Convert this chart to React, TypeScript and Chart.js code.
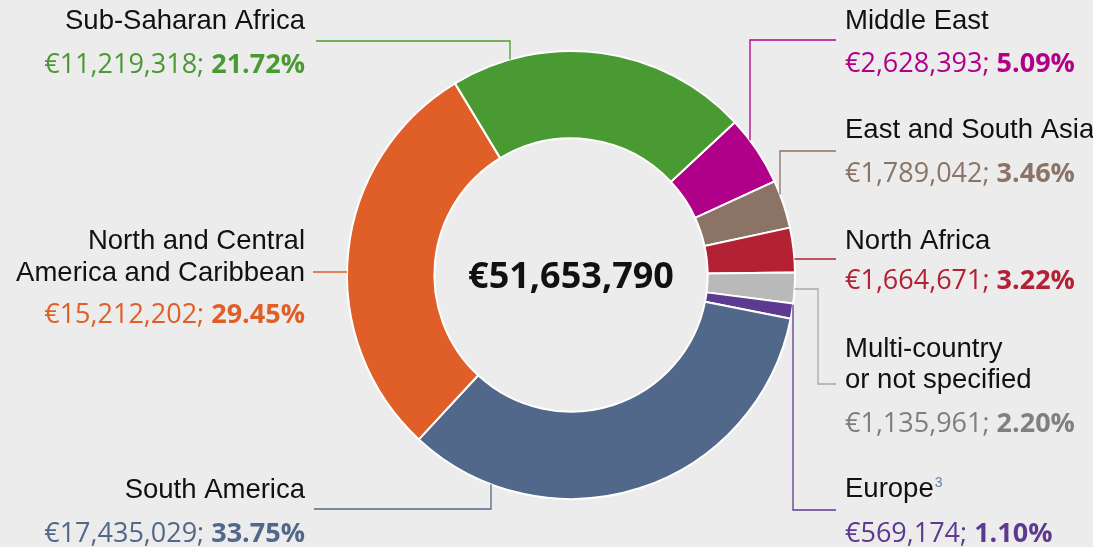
import React, { useEffect, useRef } from "react";
import { Chart, registerables } from "chart.js";

Chart.register(...registerables);

// ---- data ----
const regions = [
  "Middle East",
  "East and South Asia",
  "North Africa",
  "Multi-country or not specified",
  "Europe",
  "South America",
  "North and Central America and Caribbean",
  "Sub-Saharan Africa",
];
const amounts = [2628393, 1789042, 1664671, 1135961, 569174, 17435029, 15212202, 11219318];
const percents = ["5.09", "3.46", "3.22", "2.20", "1.10", "33.75", "29.45", "21.72"];
const labelLines = [
  ["Middle East"],
  ["East and South Asia"],
  ["North Africa"],
  ["Multi-country", "or not specified"],
  ["Europe"],
  ["South America"],
  ["North and Central", "America and Caribbean"],
  ["Sub-Saharan Africa"],
];
const superscripts = ["", "", "", "", "3", "", "", ""];

// ---- styles ----
const sliceColors = ["#b0008a", "#8b7366", "#b22234", "#b9b9b9", "#5c3a8f", "#52688a", "#e05f28", "#4a9a33"];
const textColors = ["#b0008a", "#8b7366", "#b22234", "#7f7f7f", "#5c3a8f", "#52688a", "#e05f28", "#4a9a33"];
const BG = "#ececec";
const NAME_FONT = "27.5px 'Liberation Sans', Arial, sans-serif";
const VALUE_FONT = "27px 'Open Sans', sans-serif";
const VALUE_BOLD_FONT = "bold 27px 'Open Sans', sans-serif";
const CENTER_FONT = "bold 36px 'Open Sans', sans-serif";

type Layout = {
  x: number;
  align: "left" | "right";
  nameY: number[];
  valueY: number;
  leader: number[][];
  toRing: "up" | "down" | "left" | "right";
};

const labelLayout: Layout[] = [
  { x: 845, align: "left", nameY: [29], valueY: 72, leader: [[836, 40], [750, 40]], toRing: "down" },
  { x: 845, align: "left", nameY: [138], valueY: 182, leader: [[836, 151], [780, 151]], toRing: "down" },
  { x: 845, align: "left", nameY: [249], valueY: 289, leader: [[836, 259]], toRing: "left" },
  { x: 845, align: "left", nameY: [357, 388], valueY: 432, leader: [[836, 384], [818, 384], [818, 289]], toRing: "left" },
  { x: 845, align: "left", nameY: [497], valueY: 542, leader: [[836, 510], [793, 510]], toRing: "up" },
  { x: 305, align: "right", nameY: [498], valueY: 542, leader: [[314, 509], [491, 509]], toRing: "up" },
  { x: 305, align: "right", nameY: [249, 281], valueY: 323, leader: [[313, 272]], toRing: "right" },
  { x: 305, align: "right", nameY: [29], valueY: 73, leader: [[316, 41], [510, 41]], toRing: "down" },
];

const bgPlugin = {
  id: "bg",
  beforeDraw(chart: any) {
    const ctx = chart.ctx;
    ctx.save();
    ctx.fillStyle = BG;
    ctx.fillRect(0, 0, chart.width, chart.height);
    ctx.restore();
  },
};

const labelPlugin = {
  id: "labels",
  afterDraw(chart: any) {
    const ctx = chart.ctx as CanvasRenderingContext2D;
    const meta = chart.getDatasetMeta(0);
    const arc0 = meta.data[0] as any;
    const cx = arc0.x;
    const cy = arc0.y;
    const R = arc0.outerRadius;
    ctx.save();

    // leader lines
    labelLayout.forEach((l, i) => {
      const pts = l.leader.map((p) => [p[0], p[1]]);
      const last = pts[pts.length - 1];
      let end: number[];
      if (l.toRing === "down") end = [last[0], cy - Math.sqrt(Math.max(R * R - (last[0] - cx) ** 2, 0))];
      else if (l.toRing === "up") end = [last[0], cy + Math.sqrt(Math.max(R * R - (last[0] - cx) ** 2, 0))];
      else if (l.toRing === "left") end = [cx + Math.sqrt(Math.max(R * R - (last[1] - cy) ** 2, 0)), last[1]];
      else end = [cx - Math.sqrt(Math.max(R * R - (last[1] - cy) ** 2, 0)), last[1]];
      pts.push(end);
      ctx.strokeStyle = sliceColors[i] === "#b9b9b9" ? "#a8a8a8" : sliceColors[i];
      ctx.lineWidth = 1.3;
      ctx.beginPath();
      pts.forEach((p, k) => (k === 0 ? ctx.moveTo(p[0], p[1]) : ctx.lineTo(p[0], p[1])));
      ctx.stroke();
    });

    // texts
    ctx.textBaseline = "alphabetic";
    labelLayout.forEach((l, i) => {
      ctx.font = NAME_FONT;
      ctx.fillStyle = "#111111";
      labelLines[i].forEach((line, k) => {
        ctx.textAlign = l.align;
        ctx.fillText(line, l.x, l.nameY[k]);
        if (superscripts[i] && k === labelLines[i].length - 1) {
          const w = ctx.measureText(line).width;
          ctx.save();
          ctx.font = "14px 'Liberation Sans', Arial, sans-serif";
          ctx.fillStyle = "#6a7fa8";
          ctx.textAlign = "left";
          ctx.fillText(superscripts[i], l.x + w + 1, l.nameY[k] - 10);
          ctx.restore();
        }
      });
      const normal = "€" + amounts[i].toLocaleString("en-US") + "; ";
      const bold = percents[i] + "%";
      ctx.font = VALUE_FONT;
      const wn = ctx.measureText(normal).width;
      ctx.font = VALUE_BOLD_FONT;
      const wb = ctx.measureText(bold).width;
      const x0 = l.align === "left" ? l.x : l.x - wn - wb;
      ctx.textAlign = "left";
      ctx.fillStyle = textColors[i];
      ctx.font = VALUE_FONT;
      ctx.fillText(normal, x0, l.valueY);
      ctx.font = VALUE_BOLD_FONT;
      ctx.fillText(bold, x0 + wn, l.valueY);
    });

    // center total
    const total = amounts.reduce((a, b) => a + b, 0);
    ctx.font = CENTER_FONT;
    ctx.fillStyle = "#111111";
    ctx.textAlign = "center";
    ctx.fillText("€" + total.toLocaleString("en-US"), cx, cy + 13);
    ctx.restore();
  },
};

export default function App() {
  const ref = useRef<HTMLCanvasElement | null>(null);
  useEffect(() => {
    document.body.style.margin = "0";
    document.body.style.background = BG;
    if (!ref.current) return;
    const chart = new Chart(ref.current, {
      type: "doughnut",
      data: {
        labels: regions,
        datasets: [
          {
            data: amounts,
            backgroundColor: sliceColors,
            borderColor: "#ffffff",
            borderWidth: 2,
          },
        ],
      },
      options: {
        responsive: false,
        animation: false,
        rotation: 47,
        cutout: "61%",
        layout: { padding: { left: 346, right: 297, top: 50, bottom: 47 } },
        plugins: { legend: { display: false }, tooltip: { enabled: false } },
      },
      plugins: [bgPlugin, labelPlugin],
    });
    return () => chart.destroy();
  }, []);
  return (
    <div style={{ width: 1093, height: 547, background: BG }}>
      <canvas ref={ref} width={1093} height={547} />
    </div>
  );
}
